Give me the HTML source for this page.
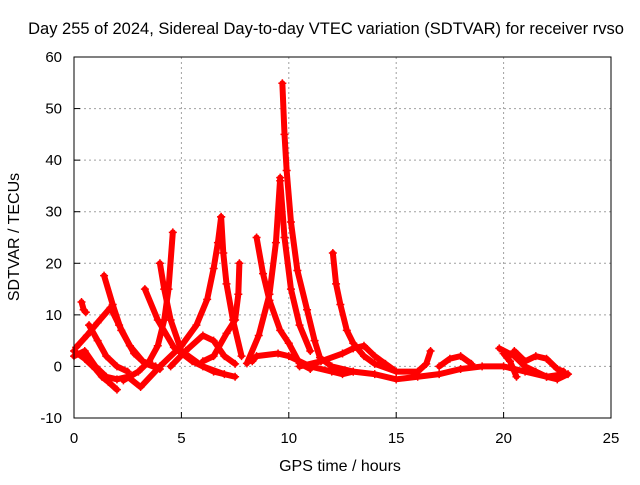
<!DOCTYPE html>
<html><head><meta charset="utf-8"><style>
body{margin:0;background:#fff}
svg text{font-family:"Liberation Sans",sans-serif;fill:#000}
</style></head><body>
<svg width="640" height="480">
<g id="grid"></g>
<g id="series"></g>
<rect x="74" y="57" width="537" height="361" fill="none" stroke="#000" stroke-width="1"/>
<g id="ticks"></g>
<text x="326" y="34" font-size="16.5" text-anchor="middle">Day 255 of 2024, Sidereal Day-to-day VTEC variation (SDTVAR) for receiver rvso</text>
<text x="340" y="471" font-size="16" text-anchor="middle">GPS time / hours</text>
<text x="19" y="237" font-size="16" text-anchor="middle" transform="rotate(-90 19 237)">SDTVAR / TECUs</text>
</svg>
<script>
const xTicks=[0,5,10,15,20,25];
const yTicks=[-10,0,10,20,30,40,50,60];
const tracks=[
[[0.35,12.5],[0.45,11],[0.55,10.5]],
[[0,3],[0.5,1.5],[1,-0.5],[1.3,-2],[1.6,-3],[2,-4.5]],
[[0.1,3.7],[0.6,6],[1.1,8.5],[1.7,11.4],[2.1,8],[2.6,4],[3.2,1],[3.8,0]],
[[0.7,8],[1.1,5],[1.5,2],[2,0],[2.5,-1]],
[[1.4,17.6],[1.8,12],[2.2,7],[2.8,2.5],[3.3,0.6],[4,-0.5]],
[[0,2],[0.5,3],[1,0],[1.5,-2],[2,-2.5],[2.5,-2],[3.1,-4],[4,0],[5,4],[5.7,8],[6.2,13],[6.5,19],[6.7,24],[6.85,29]],
[[4,20],[4.2,15],[4.5,9],[5,3],[6,0],[7,-1.5]],
[[2.3,-2.7],[3,-1],[3.5,1],[3.9,4],[4.2,9],[4.4,15],[4.6,26]],
[[3.3,15],[3.9,9],[4.65,3.7],[5.5,1],[6.5,-1],[7.5,-2]],
[[6.85,29],[6.95,22],[7.1,16],[7.4,9],[7.8,2]],
[[7.7,20],[7.65,14],[7.5,9],[7.1,6.4],[6.5,2],[6,1]],
[[4.5,0],[5.2,3],[6,6],[6.5,5],[7,2],[7.5,0.5]],
[[8.05,0.6],[8.6,6],[9.1,14],[9.4,24],[9.6,36.6]],
[[9.7,54.9],[9.8,45],[9.9,38],[10.1,28],[10.4,18.6],[10.85,11],[11.2,5],[11.45,1.7],[12,0],[13,-1]],
[[9.6,36],[9.8,25],[10.1,15],[10.5,8],[11,3]],
[[8.5,25],[8.8,18],[9.1,12.8],[9.6,7],[10,4.5],[10.5,0.6],[11,-0.5]],
[[12.05,22],[12.2,16],[12.4,12],[12.7,7],[13,4.5],[13.5,2],[14,0.5],[15,-1]],
[[8.3,1],[8.5,2],[9.5,2.5],[10,2],[11,0],[12,-1],[12.5,-1.5],[13,-1],[14,-1.5],[15,-2.5],[16,-2],[17,-1.5],[18,-0.5],[19,0],[20,0],[21,-1],[22,-2],[22.8,-1.5]],
[[10.5,0],[11.5,1],[12.5,2.5],[13,3.5],[13.5,4],[14,2],[14.5,0.5],[15,-1],[16,-1],[16.4,0.5],[16.6,3]],
[[17,0],[17.5,1.5],[18,2],[18.5,0.5]],
[[19.8,3.5],[20.5,2],[21,0],[21.5,-1],[22,-2],[22.5,-2.5],[23,-1.5]],
[[20.5,3],[21,1],[21.5,2],[22,1.5],[22.5,-0.5],[22.8,-1]],
[[20,2.5],[20.3,1],[20.6,-2]]
];
const NS="http://www.w3.org/2000/svg";
const X0=74,X1=611,Y0=418,Y1=57;
function sx(v){return X0+(v-0)/(25-0)*(X1-X0);}
function sy(v){return Y0-(v+10)/(70)*(Y0-Y1);}
function mk(t,a){const e=document.createElementNS(NS,t);for(const k in a)e.setAttribute(k,a[k]);return e;}
const grid=document.getElementById('grid'),ticks=document.getElementById('ticks'),ser=document.getElementById('series');
xTicks.forEach(v=>{
 if(v>0&&v<25){const l=mk('line',{x1:sx(v),x2:sx(v),y1:Y1,y2:Y0,stroke:'#a0a0a0','stroke-dasharray':'2,3'});
 
 grid.appendChild(l);}
 const t=mk('line',{x1:sx(v),x2:sx(v),y1:Y0,y2:Y0-6,stroke:'#000'});
 
 ticks.appendChild(t);
 const tx=mk('text',{x:sx(v),y:443,'font-size':15,'text-anchor':'middle'});tx.textContent=v;
 
 ticks.appendChild(tx);
});
yTicks.forEach(v=>{
 if(v>-10&&v<60){const l=mk('line',{x1:X0,x2:X1,y1:sy(v),y2:sy(v),stroke:'#a0a0a0','stroke-dasharray':'2,3'});
 
 grid.appendChild(l);}
 const t=mk('line',{x1:X0,x2:X0+6,y1:sy(v),y2:sy(v),stroke:'#000'});
 
 ticks.appendChild(t);
 const tx=mk('text',{x:62,y:sy(v)+5,'font-size':15,'text-anchor':'end'});tx.textContent=v;
 
 ticks.appendChild(tx);
});
tracks.forEach(tr=>{
 const p=mk('polyline',{points:tr.map(d=>sx(d[0])+','+sy(d[1])).join(' '),fill:'none',stroke:'#f00','stroke-width':6,'stroke-linejoin':'round','stroke-linecap':'round'});
 
 ser.appendChild(p);
 tr.forEach(d=>{
  const m=mk('path',{d:`M${sx(d[0])-4},${sy(d[1])}h8M${sx(d[0])},${sy(d[1])-4}v8`,stroke:'#f00','stroke-width':1.5});
  
  ser.appendChild(m);
 });
});
</script>
</body></html>
